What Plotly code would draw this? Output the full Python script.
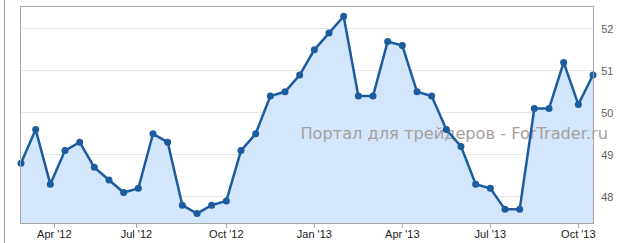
import plotly.graph_objects as go

# Semi-monthly readings, Mar 2012 .. Oct 2013 (evenly spaced, ordinal axis)
values = [48.8, 49.6, 48.3, 49.1, 49.3, 48.7, 48.4, 48.1, 48.2, 49.5,
          49.3, 47.8, 47.6, 47.8, 47.9, 49.1, 49.5, 50.4, 50.5, 50.9,
          51.5, 51.9, 52.3, 50.4, 50.4, 51.7, 51.6, 50.5, 50.4, 49.6,
          49.2, 48.3, 48.2, 47.7, 47.7, 50.1, 50.1, 51.2, 50.2, 50.9]
point_index = list(range(len(values)))

tick_labels = ["Apr '12", "Jul '12", "Oct '12", "Jan '13", "Apr '13", "Jul '13", "Oct '13"]
tick_positions = [2.27, 7.87, 14.0, 20.0, 26.0, 32.0, 38.0]

y_ticks = [48, 49, 50, 51, 52]
y_range = [47.375, 52.52]

watermark = "Портал для трейдеров - ForTrader.ru"
watermark_pos = (19.05, 49.48)

line_color = "#1c5c9e"
fill_color = "#d3e6fb"
border = "#a6a6a6"

fig = go.Figure()
# area fill
fig.add_trace(go.Scatter(x=point_index, y=values, mode="lines", fill="tozeroy",
                         fillcolor=fill_color, line=dict(width=0, color=fill_color),
                         hoverinfo="skip", showlegend=False))
# watermark (between fill and line)
fig.add_trace(go.Scatter(x=[watermark_pos[0]], y=[watermark_pos[1]], mode="text",
                         text=[watermark], textposition="middle right",
                         textfont=dict(family="DejaVu Sans", size=16.2, color="#a89e9c"),
                         hoverinfo="skip", showlegend=False, cliponaxis=False))
# line + markers
fig.add_trace(go.Scatter(x=point_index, y=values, mode="lines+markers",
                         line=dict(color=line_color, width=2.5),
                         marker=dict(color=line_color, size=7),
                         cliponaxis=False, showlegend=False))

fig.update_layout(
    width=617, height=243,
    margin=dict(l=21, r=24, t=7, b=20),
    paper_bgcolor="white", plot_bgcolor="white",
    font=dict(family="Liberation Sans", size=11, color="#333333"),
    xaxis=dict(range=[0, len(values) - 1], tickmode="array", tickvals=tick_positions,
               ticktext=tick_labels, showgrid=False, zeroline=False, automargin=False,
               showline=True, linecolor=border, linewidth=1, mirror=True,
               ticks="outside", ticklen=4, tickcolor=border, ticklabelstandoff=-3,
               tickfont=dict(family="Liberation Sans", size=11, color="#222222")),
    yaxis=dict(range=y_range, tickmode="array", tickvals=y_ticks, side="right",
               showgrid=True, gridcolor="#e6e6e6", gridwidth=1, zeroline=False,
               automargin=False,
               showline=True, linecolor=border, linewidth=1, mirror=True,
               ticks="", ticklabelstandoff=5,
               tickfont=dict(family="Liberation Sans", size=11, color="#606060")),
    shapes=[dict(type="line", xref="paper", yref="paper", x0=-0.02885, x1=-0.02885,
                 y0=-0.2, y1=1.1, layer="above",
                 line=dict(color="#a8a8a8", width=1.2))],
)

fig.write_html("out.html")
